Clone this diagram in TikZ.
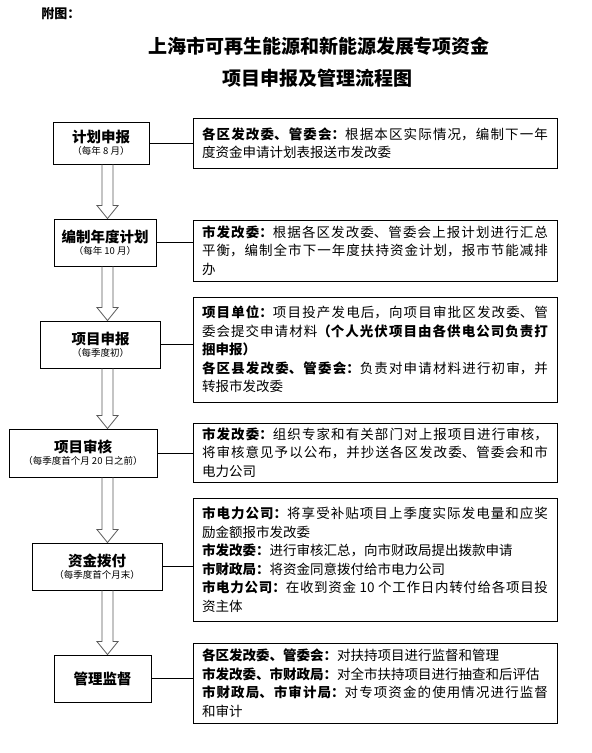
\documentclass[tikz,border=0pt]{standalone}
\usepackage{fontspec}
\setmainfont{Noto Sans CJK SC}
\usetikzlibrary{calc}
\XeTeXlinebreaklocale "zh"
\XeTeXlinebreakskip=0pt plus 2pt
\setlength{\parindent}{0pt}
\newcommand{\sname}[1]{{\bfseries\fontsize{14.5}{17}\selectfont #1}}

\begin{document}
\begin{tikzpicture}[x=1pt,y=-1pt,
  stage/.style={draw,line width=0.9pt,inner sep=0pt,align=center,font=\fontsize{9.5}{11}\selectfont},
  desc/.style={draw,line width=0.9pt,inner xsep=9pt,inner ysep=2pt,text width=346pt,align=justify,font=\fontsize{13.5}{18.5}\selectfont},
  link/.style={line width=0.8pt},
  blockarr/.style={draw=black!65,line width=0.8pt,line join=miter}]
\useasboundingbox (0,0) rectangle (592,753);
% heading
\node[font=\bfseries\fontsize{13}{15}\selectfont] (fig) at (61,14) {附图：};
\node[font=\bfseries\fontsize{19}{22}\selectfont] (title1) at (319,46) {上海市可再生能源和新能源发展专项资金};
\node[font=\bfseries\fontsize{19}{22}\selectfont] (title2) at (317,78) {项目申报及管理流程图};
% stages
\node[stage,minimum width=96pt,minimum height=42pt] (s1) at (101,143) {\sname{计划申报}\\[1pt]（每年 8 月）};
\node[stage,minimum width=102pt,minimum height=47pt] (s2) at (105,242.5) {\sname{编制年度计划}\\[1pt]（每年 10 月）};
\node[stage,minimum width=120pt,minimum height=47pt] (s3) at (100.5,344.5) {\sname{项目申报}\\[1pt]（每季度初）};
\node[stage,minimum width=148pt,minimum height=48pt] (s4) at (83,453) {\sname{项目审核}\\[1pt]（每季度首个月 20 日之前）};
\node[stage,minimum width=130pt,minimum height=47pt] (s5) at (97,566.5) {\sname{资金拨付}\\[1pt]（每季度首个月末）};
\node[stage,minimum width=97pt,minimum height=47pt] (s6) at (102.5,678.5) {\sname{管理监督}};
% descriptions
\node[desc,minimum height=50pt] (d1) at (375,143) {{\bfseries 各区发改委、管委会：}根据本区实际情况，编制下一年\linebreak 度资金申请计划表报送市发改委};
\node[desc,minimum height=61pt] (d2) at (375,250.5) {{\bfseries 市发改委：}根据各区发改委、管委会上报计划进行汇总\linebreak 平衡，编制全市下一年度扶持资金计划，报市节能减排\linebreak 办};
\node[desc,minimum height=105pt] (d3) at (375,349.5) {{\bfseries 项目单位：}项目投产发电后，向项目审批区发改委、管\linebreak 委会提交申请材料{\bfseries （个人光伏项目由各供电公司负责打\linebreak 捆申报）}\\{\bfseries 各区县发改委、管委会：}负责对申请材料进行初审，并\linebreak 转报市发改委};
\node[desc,minimum height=59pt] (d4) at (375,452.5) {{\bfseries 市发改委：}组织专家和有关部门对上报项目进行审核，\linebreak 将审核意见予以公布，并抄送各区发改委、管委会和市\linebreak 电力公司};
\node[desc,minimum height=123pt] (d5) at (375,559.5) {{\bfseries 市电力公司：}将享受补贴项目上季度实际发电量和应奖\linebreak 励金额报市发改委\\{\bfseries 市发改委：}进行审核汇总，向市财政局提出拨款申请\\{\bfseries 市财政局：}将资金同意拨付给市电力公司\\{\bfseries 市电力公司：}在收到资金 10 个工作日内转付给各项目投\linebreak 资主体};
\node[desc,minimum height=80pt] (d6) at (375,683) {{\bfseries 各区发改委、管委会：}对扶持项目进行监督和管理\\{\bfseries 市发改委、市财政局：}对全市扶持项目进行抽查和后评估\\{\bfseries 市财政局、市审计局：}对专项资金的使用情况进行监督\linebreak 和审计};
% links
\foreach \i in {1,...,6}
  \draw[link] (s\i.east) -- (s\i.east -| d\i.west);
% hollow arrows
\coordinate (ax) at (107.5,0);
\foreach \a/\b in {s1/s2,s2/s3,s3/s4,s4/s5,s5/s6}
  \draw[blockarr] ($(\a.south -| ax)+(-5.5,0)$) -- ($(\b.north -| ax)+(-5.5,-13)$) -- ++(-5,0)
    -- (\b.north -| ax) -- ++(10.5,-13) -- ++(-5,0) -- ($(\a.south -| ax)+(5.5,0)$);
\end{tikzpicture}
\end{document}
